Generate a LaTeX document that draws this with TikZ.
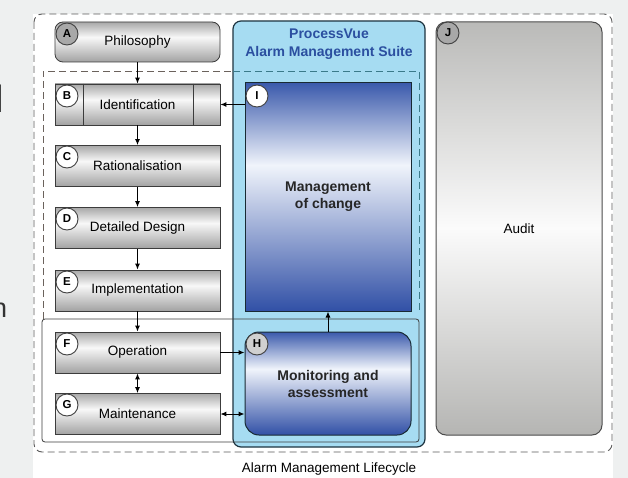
\documentclass[tikz,border=0pt]{standalone}
\usepackage{fontspec}
\setmainfont{Liberation Sans}
\usetikzlibrary{arrows.meta}
\definecolor{bgray}{HTML}{EEF0F0}
\definecolor{boxtop}{HTML}{A8A8A8}
\definecolor{boxmid}{HTML}{F8F8F8}
\definecolor{boxbot}{HTML}{A2A2A2}
\definecolor{boxline}{HTML}{3C3C3C}
\definecolor{suite}{HTML}{A6DCF2}
\definecolor{suiteline}{HTML}{1E3440}
\definecolor{suitetext}{HTML}{2B4FA0}
\definecolor{bluetop}{HTML}{3B5AAC}
\definecolor{bluemid}{HTML}{F0F4FB}
\definecolor{bluebot}{HTML}{3150A6}
\definecolor{audtop}{HTML}{BABAB8}
\definecolor{audmid}{HTML}{FBFBFB}
\definecolor{audbot}{HTML}{B5B5B3}
\definecolor{dashgray}{HTML}{6B625C}
\definecolor{dashteal}{HTML}{3A7A8A}
\definecolor{circgray}{HTML}{A8A8A8}
\definecolor{circlight}{HTML}{D0D0D0}
\pgfdeclareverticalshading{stageshade}{100bp}{color(0bp)=(boxbot); color(25bp)=(boxbot); color(56bp)=(boxmid); color(75bp)=(boxtop); color(100bp)=(boxtop)}
\pgfdeclareverticalshading{blueshade}{100bp}{color(0bp)=(bluebot); color(25bp)=(bluebot); color(57bp)=(bluemid); color(75bp)=(bluetop); color(100bp)=(bluetop)}
\pgfdeclareverticalshading{audshade}{100bp}{color(0bp)=(audbot); color(25bp)=(audbot); color(50bp)=(audmid); color(75bp)=(audtop); color(100bp)=(audtop)}
\begin{document}
\begin{tikzpicture}[x=1pt,y=-1pt,
  every node/.style={font=\fontsize{13.5}{16}\selectfont},
  stagebox/.style={draw=boxline, line width=0.8pt, minimum width=165pt, minimum height=41pt,
    inner sep=0pt, shading=stageshade},
  bluebox/.style={draw=suiteline!80!black, line width=1pt, minimum width=166pt, inner sep=0pt,
    shading=blueshade,
    font=\bfseries\fontsize{14}{17}\selectfont, text=black!85, align=center},
  lettercirc/.style={circle, draw=black!75, line width=0.9pt, minimum size=22pt, inner sep=0pt,
    fill=white, font=\bfseries\fontsize{11.5}{12}\selectfont},
  arr/.style={-{Latex[length=6pt,width=5pt]}, line width=1pt, black},
  darr/.style={{Latex[length=6pt,width=5pt]}-{Latex[length=6pt,width=5pt]}, line width=1pt, black},
  outerdash/.style={draw=black!65, line width=0.9pt, dash pattern=on 7pt off 4pt}
]
\useasboundingbox (0,0) rectangle (628,478);
% backgrounds
\fill[bgray] (0,0) rectangle (628,478);
\fill[white] (33,14) rectangle (613,478);
% stray cropped text at the left edge
\node[anchor=base west, inner sep=0pt, text=black!80, font=\fontsize{38}{40}\selectfont] (strayl) at (-4.5,113) {l};
\node[anchor=base west, inner sep=0pt, text=black!80, font=\fontsize{27}{30}\selectfont] (strayn) at (-8,317) {n};
% outer dashed lifecycle frame
\draw[outerdash, rounded corners=8pt] (34,14) rectangle (612,452);
\node (lifecycle) at (329,469) {Alarm Management Lifecycle};
% ProcessVue suite container
\draw[fill=suite, draw=suiteline, line width=1.2pt, rounded corners=8pt] (233,21) rectangle (425,447);
\node[font=\bfseries\fontsize{14}{18}\selectfont, text=suitetext, align=center] (pv) at (329,44)
  {ProcessVue\\Alarm Management Suite};
% inner dashed region (B to E)
\draw[dashgray, line width=0.9pt, dash pattern=on 7pt off 4pt] (43,319) -- (43,71) -- (233,71);
\draw[dashteal, line width=0.9pt, dash pattern=on 7pt off 4pt] (233,71) -- (419,71) -- (419,313);
% operation region (solid)
\draw[boxline, line width=0.8pt, rounded corners=3pt] (42,319) -- (419,319) -- (419,442) -- (42,442) -- cycle;
% lifecycle stage boxes
\node[stagebox, rounded corners=8pt, minimum height=40pt] (A) at (137.5,42) {Philosophy};
\node[stagebox] (B) at (137.5,104.5) {Identification};
\draw[boxline, line width=0.8pt] ([xshift=29pt]B.north west) -- ([xshift=29pt]B.south west);
\draw[boxline, line width=0.8pt] ([xshift=-27pt]B.north east) -- ([xshift=-27pt]B.south east);
\node[stagebox] (C) at (137.5,166) {Rationalisation};
\node[stagebox] (D) at (137.5,228) {Detailed Design};
\node[stagebox] (E) at (137.5,290.5) {Implementation};
\node[stagebox] (F) at (137.5,352.5) {Operation};
\node[stagebox] (G) at (137.5,414) {Maintenance};
% suite boxes
\node[bluebox, minimum height=228pt] (MoC) at (328,197) {Management\\of change};
\node[bluebox, minimum height=103pt, rounded corners=14pt] (H) at (328,383.5) {Monitoring and\\assessment};
% audit
\node[draw=black!70, line width=1pt, rounded corners=10pt, minimum width=166pt, minimum height=413pt,
  inner sep=0pt, shading=audshade] (J) at (519,228.5) {Audit};
% letter circles
\node[lettercirc, fill=circgray] (cA) at (67,34) {A};
\node[lettercirc] (cB) at (67,96) {B};
\node[lettercirc] (cC) at (67,157) {C};
\node[lettercirc] (cD) at (67,219) {D};
\node[lettercirc] (cE) at (67,282) {E};
\node[lettercirc] (cF) at (67,344) {F};
\node[lettercirc] (cG) at (67,405) {G};
\node[lettercirc] (cI) at (257,96) {I};
\node[lettercirc, fill=circlight] (cH) at (257,344) {H};
\node[lettercirc, fill=circgray] (cJ) at (448,33) {J};
% connectors
\draw[arr] (A) -- (B);
\draw[arr] (B) -- (C);
\draw[arr] (C) -- (D);
\draw[arr] (D) -- (E);
\draw[arr] (E) -- (F);
\draw[darr] (F) -- (G);
\draw[arr] (MoC.west |- B.east) -- (B.east);
\draw[arr] (F.east) -- (H.west |- F.east);
\draw[darr] (G.east) -- (H.west |- G.east);
\draw[arr] (H) -- (MoC);
\end{tikzpicture}
\end{document}
